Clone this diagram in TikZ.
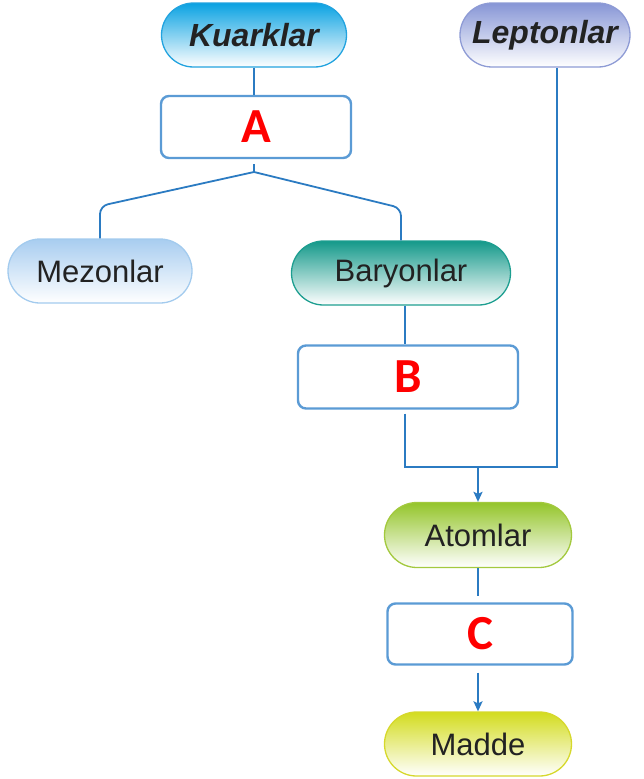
\documentclass[tikz,border=0pt]{standalone}
\usepackage{fontspec}
\setmainfont{Liberation Sans}
\newfontfamily\calib{Carlito}
\usetikzlibrary{shapes.misc,arrows.meta}
\definecolor{txt}{HTML}{222222}
\definecolor{conncol}{HTML}{2B7BC2}
\definecolor{boxcol}{HTML}{5B9BD5}
\definecolor{kuarkT}{HTML}{0AA2E2}
\definecolor{kuarkB}{HTML}{22A3DF}
\definecolor{lepT}{HTML}{8796D6}
\definecolor{lepB}{HTML}{8E9BD5}
\definecolor{mezT}{HTML}{A8CDF0}
\definecolor{mezB}{HTML}{A3CBEE}
\definecolor{barT}{HTML}{14998A}
\definecolor{barB}{HTML}{1D9E90}
\definecolor{atomT}{HTML}{94C52A}
\definecolor{atomB}{HTML}{A3C93E}
\definecolor{madT}{HTML}{D3DC1E}
\definecolor{madB}{HTML}{D6D82C}
\definecolor{letter}{HTML}{FF0000}
\begin{document}
\begin{tikzpicture}[x=1pt,y=-1pt,
  pill/.style={rounded rectangle, minimum width=#1, minimum height=64pt, inner sep=0pt,
    line width=1.3pt, bottom color=white, text=txt, font=\fontsize{31}{33}\selectfont},
  lbox/.style={rectangle, rounded corners=8pt, draw=boxcol, line width=2.4pt, fill=white,
    inner sep=0pt, text=letter, font=\calib\bfseries\fontsize{49}{51}\selectfont},
  conn/.style={draw=conncol, line width=1.8pt},
  arr/.style={conn, -{Stealth[length=10pt,width=9pt,inset=2pt]}}
]
\useasboundingbox (0,0) rectangle (644,779);

\node[pill=185pt, top color=kuarkT, draw=kuarkB, font=\fontsize{32}{34}\selectfont\bfseries\itshape] (K) at (254,35) {Kuarklar};
\node[pill=170pt, top color=lepT, draw=lepB, font=\fontsize{32}{34}\selectfont\bfseries\itshape] (L) at (545,35) {Leptonlar};
\node[lbox, minimum width=190pt, minimum height=62pt] (A) at (256,127) {A};
\node[pill=184pt, top color=mezT, draw=mezB] (M) at (100,271) {Mezonlar};
\node[pill=219pt, top color=barT, draw=barB] (Ba) at (401,273) {Baryonlar};
\node[lbox, minimum width=220pt, minimum height=63pt] (B) at (408,377) {B};
\node[pill=187pt, top color=atomT, draw=atomB, minimum height=65pt] (At) at (478,535) {Atomlar};
\node[lbox, minimum width=185pt, minimum height=61pt] (C) at (480,634) {C};
\node[pill=187pt, top color=madT, draw=madB] (Md) at (478,744) {Madde};

\coordinate (ap) at (254,172);
\coordinate (jn) at (478,467);

\draw[conn] (K.south -| 254,0) -- (A.north -| 254,0);
\draw[conn] ([yshift=-5pt]A.south -| 254,0) -- (ap);
\draw[conn, rounded corners=8pt] (ap) -- (M.north |- 0,206) -- (M.north);
\draw[conn, rounded corners=8pt] (ap) -- (Ba.north |- 0,208) -- (Ba.north);
\draw[conn] (Ba.south -| 405,0) -- (B.north -| 405,0);
\draw[conn] ([yshift=-4pt]B.south -| 405,0) -- (405,467) -- (557,467) -- (L.south -| 557,0);
\draw[arr] (jn) -- (At.north);
\draw[conn] (At.south) -- ([yshift=6pt]C.north -| At.south);
\draw[arr] ([yshift=-7pt]C.south -| Md.north) -- (Md.north);
\end{tikzpicture}
\end{document}
